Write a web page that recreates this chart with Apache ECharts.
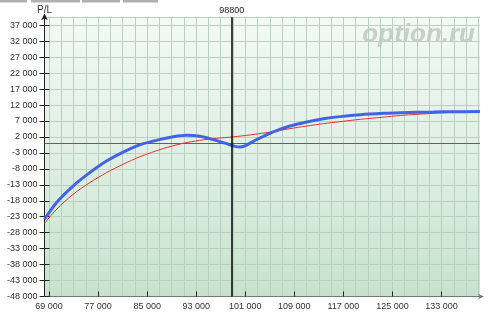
<!DOCTYPE html>
<html>
<head>
<meta charset="utf-8">
<script src="https://cdn.jsdelivr.net/npm/echarts@6/dist/echarts.min.js"></script>
<style>
html,body{margin:0;padding:0;background:#fff;}
#chart{width:493px;height:317px;}
</style>
</head>
<body>
<div id="chart"></div>
<script>
// ---- data ----
const blueX = [68265, 70208, 72918, 75645, 78372, 81082, 83808, 86535, 89245, 91433, 93605, 95776, 97964, 99319, 100136, 100952, 101768, 103401, 105572, 108299, 111025, 113736, 116462, 119727, 123531, 126258, 128984, 131695, 134421, 139270];
const blueY = [-23800, -18590, -13390, -9190, -5550, -2730, -470, 940, 2040, 2510, 2190, 1160, -90, -940, -1160, -780, 60, 1690, 3600, 5420, 6680, 7680, 8370, 8970, 9400, 9600, 9720, 9810, 9910, 9940];
const redX = [68265, 70208, 72918, 75645, 78372, 81082, 83808, 87613, 90829, 93605, 96332, 99042, 101768, 105572, 108299, 111025, 113736, 116462, 119727, 123531, 126258, 128984, 131695, 134421, 139270];
const redY = [-25080, -20690, -15990, -12320, -9190, -6580, -4200, -1650, 0, 940, 1570, 2040, 2630, 3670, 4610, 5420, 6180, 6800, 7520, 8210, 8720, 9090, 9410, 9660, 9910];
const xTicks = [69000, 77000, 85000, 93000, 101000, 109000, 117000, 125000, 133000];
const yTicks = [-48000, -43000, -38000, -33000, -28000, -23000, -18000, -13000, -8000, -3000, 2000, 7000, 12000, 17000, 22000, 27000, 32000, 37000];
const xGrid = [];
for (let v = 69000; v <= 139000; v += 2000) xGrid.push(v);
const yGrid = yTicks.concat([39500]);
const spotPrice = 98800;
const xMin = 68265, xMax = 139270, yMin = -48000, yMax = 39500;

function fmt(v) {
  const s = String(Math.abs(Math.round(v))).replace(/\B(?=(\d{3})+(?!\d))/g, ' ');
  return (v < 0 ? '-' : '') + s;
}
function zip(a, b) { return a.map((x, i) => [x, b[i]]); }

const chart = echarts.init(document.getElementById('chart'));
const FONT = 'Liberation Sans, Arial, sans-serif';
const grid = { left: 44.5, right: 13, top: 17.3, bottom: 20.5 };

chart.setOption({
  animation: false,
  grid: {
    left: grid.left, right: grid.right, top: grid.top, bottom: grid.bottom,
    show: true, borderWidth: 0,
    backgroundColor: new echarts.graphic.LinearGradient(0, 0, 0, 1, [
      { offset: 0, color: '#f3f9f5' },
      { offset: 0.5, color: '#e0efe3' },
      { offset: 1, color: '#c6e2cc' }
    ])
  },
  graphic: [
    { type: 'rect', shape: { x: 0, y: 0, width: 27, height: 2.5 }, style: { fill: '#b0b0b0' } },
    { type: 'rect', shape: { x: 31, y: 0, width: 49, height: 2.5 }, style: { fill: '#b0b0b0' } },
    { type: 'rect', shape: { x: 82, y: 0, width: 38, height: 2.5 }, style: { fill: '#b0b0b0' } },
    { type: 'rect', shape: { x: 123, y: 0, width: 35, height: 2.5 }, style: { fill: '#b0b0b0' } },
    { type: 'text', left: 37, top: 5, style: { text: 'P/L', fill: '#333', font: '10px ' + FONT } },
    { type: 'text', right: 18, top: 22, z: 0, style: { text: 'option.ru', fill: '#c7cecb', font: 'italic bold 26px ' + FONT } }
  ],
  xAxis: [
    {
      type: 'value', min: xMin, max: xMax, position: 'bottom',
      axisLine: { show: true, onZero: false, lineStyle: { color: '#777', width: 1 }, symbol: ['none', 'arrow'], symbolSize: [4, 6], symbolOffset: [0, 4] },
      axisTick: { show: true, inside: true, length: 5, customValues: xTicks, lineStyle: { color: '#222', width: 1 } },
      axisLabel: { customValues: xTicks, formatter: fmt, color: '#333', fontSize: 9, fontFamily: FONT, margin: 6 },
      splitLine: { show: false }
    },
    {
      type: 'value', min: xMin, max: xMax, position: 'top',
      axisLine: { show: false, onZero: false }, axisTick: { show: false, customValues: xGrid }, axisLabel: { show: false },
      splitLine: { show: true, lineStyle: { color: '#b9cfc1', width: 1 } }
    }
  ],
  yAxis: [
    {
      type: 'value', min: yMin, max: yMax, position: 'left',
      axisLine: { show: true, onZero: false, lineStyle: { color: '#222', width: 1 }, symbol: ['none', 'arrow'], symbolSize: [5, 7], symbolOffset: [0, 4] },
      axisTick: { show: true, length: 5, customValues: yTicks, lineStyle: { color: '#222', width: 1 } },
      axisLabel: { customValues: yTicks, formatter: fmt, color: '#333', fontSize: 9, fontFamily: FONT, margin: 7 },
      splitLine: { show: false }
    },
    {
      type: 'value', min: yMin, max: yMax, position: 'left',
      axisLine: { show: false, onZero: false },
      axisTick: { show: true, inside: true, length: 5, customValues: yTicks, lineStyle: { color: '#222', width: 1 } },
      axisLabel: { show: false }, splitLine: { show: false }
    },
    {
      type: 'value', min: yMin, max: yMax, position: 'right',
      axisLine: { show: false, onZero: false }, axisTick: { show: false, customValues: yGrid }, axisLabel: { show: false },
      splitLine: { show: true, lineStyle: { color: '#b9cfc1', width: 1 } }
    }
  ],
  series: [
    {
      type: 'line', name: 'red', data: zip(redX, redY), smooth: 0.3, showSymbol: false, z: 3,
      lineStyle: { color: '#e03434', width: 1 },
      markLine: {
        silent: true, symbol: 'none', animation: false,
        data: [{ yAxis: 0, lineStyle: { color: '#5a6660', width: 1, type: 'solid' }, label: { show: false } }]
      }
    },
    {
      type: 'line', name: 'blue', data: zip(blueX, blueY), smooth: 0.3, showSymbol: false, z: 4,
      lineStyle: { color: '#4264e2', width: 3 },
      markLine: {
        silent: true, symbol: 'none', animation: false,
        data: [{ xAxis: spotPrice, lineStyle: { color: '#000', width: 1.5, type: 'solid' },
          label: { show: true, position: 'end', distance: 2, formatter: String(spotPrice), color: '#222', fontSize: 9, fontFamily: FONT } }]
      }
    }
  ]
});
</script>
</body>
</html>
